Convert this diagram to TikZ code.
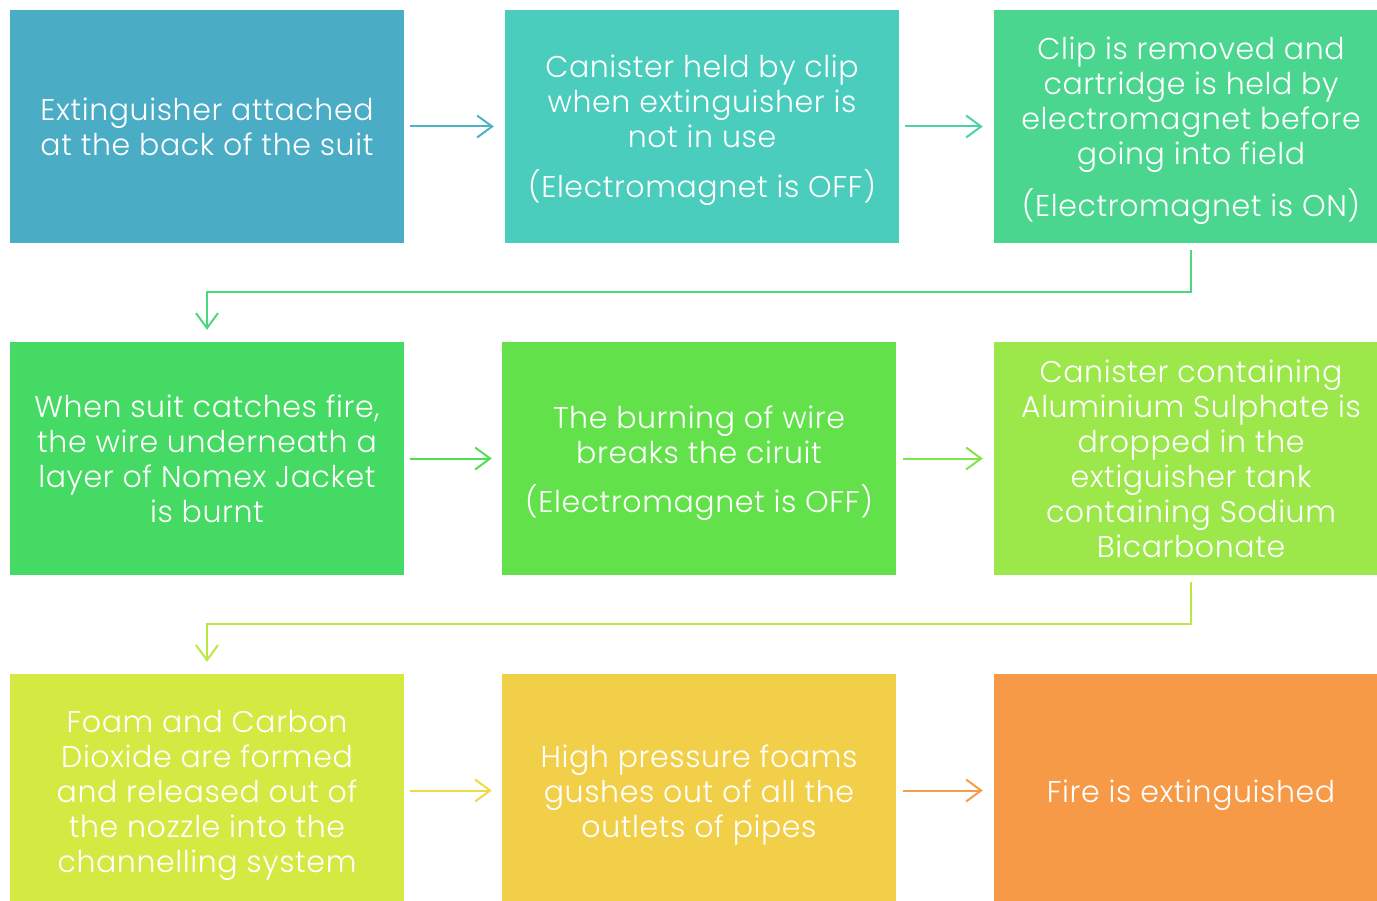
\documentclass[tikz,border=0pt]{standalone}
\usepackage{fontspec}
\setmainfont{Poppins}[UprightFont=* Light, LetterSpace=2]
\usetikzlibrary{arrows.meta}
\newcommand\mytop{\rule{0pt}{31.5pt}}
\newcommand\mybot{\rule[-8.5pt]{0pt}{8.5pt}}
\definecolor{c1}{HTML}{4BACC6}
\definecolor{c2}{HTML}{4ACDBC}
\definecolor{c3}{HTML}{4BD68F}
\definecolor{c4}{HTML}{45DA63}
\definecolor{c5}{HTML}{62E14A}
\definecolor{c6}{HTML}{9CE84A}
\definecolor{c7}{HTML}{D5E943}
\definecolor{c8}{HTML}{F2CF48}
\definecolor{c9}{HTML}{F79A48}
\definecolor{a1}{HTML}{4BB4C4}
\definecolor{a2}{HTML}{4AD3A8}
\definecolor{a3}{HTML}{4AD87E}
\definecolor{a4}{HTML}{52DD57}
\definecolor{a5}{HTML}{80E54A}
\definecolor{a6}{HTML}{BAE946}
\definecolor{a7}{HTML}{EEDA46}
\definecolor{a8}{HTML}{F69D4A}
\tikzset{
  box/.style={fill=#1, draw=none, minimum width=394pt, minimum height=233pt,
    inner sep=0pt, align=center, text=white,
    font=\fontsize{30}{35}\selectfont},
  conn/.style={draw=#1, line width=2pt, -{Straight Barb[length=15pt,width=22pt]}},
}
\begin{document}
\begin{tikzpicture}[x=1pt,y=-1pt]
\useasboundingbox (0,0) rectangle (1377,901);
\node[box=c1] (b1) at (207,126.5) {\mytop Extinguisher attached\\at the back of the suit\mybot};
\node[box=c2] (b2) at (702,126.5) {\mytop Canister held by clip\\when extinguisher is\\not in use\\[15pt](Electromagnet is OFF)\mybot};
\node[box=c3] (b3) at (1191,126.5) {\mytop Clip is removed and\\cartridge is held by\\electromagnet before\\going into field\\[15pt](Electromagnet is ON)\mybot};
\node[box=c4] (b4) at (207,458.5) {\mytop When suit catches fire,\\the wire underneath a\\layer of Nomex Jacket\\is burnt\mybot};
\node[box=c5] (b5) at (699,458.5) {\mytop The burning of wire\\breaks the ciruit\\[14pt](Electromagnet is OFF)\mybot};
\node[box=c6] (b6) at (1191,458.5) {\mytop Canister containing\\Aluminium Sulphate is\\dropped in the\\extiguisher tank\\containing Sodium\\Bicarbonate\mybot};
\node[box=c7] (b7) at (207,790.5) {\mytop Foam and Carbon\\Dioxide are formed\\and released out of\\the nozzle into the\\channelling system\mybot};
\node[box=c8] (b8) at (699,790.5) {\mytop High pressure foams\\gushes out of all the\\outlets of pipes\mybot};
\node[box=c9] (b9) at (1191,790.5) {\mytop Fire is extinguished\mybot};
\draw[conn=a1, shorten <=6pt, shorten >=11pt] (b1) -- (b2);
\draw[conn=a2, shorten <=6pt, shorten >=11pt] (b2) -- (b3);
\draw[conn=a3, shorten <=7pt, shorten >=12pt] (b3.south) -- ++(0,49) -| (b4.north);
\draw[conn=a4, shorten <=6pt, shorten >=10pt] (b4) -- (b5);
\draw[conn=a5, shorten <=7pt, shorten >=11pt] (b5) -- (b6);
\draw[conn=a6, shorten <=7pt, shorten >=12pt] (b6.south) -- ++(0,49) -| (b7.north);
\draw[conn=a7, shorten <=6pt, shorten >=10pt] (b7) -- (b8);
\draw[conn=a8, shorten <=7pt, shorten >=11pt] (b8) -- (b9);
\end{tikzpicture}
\end{document}
